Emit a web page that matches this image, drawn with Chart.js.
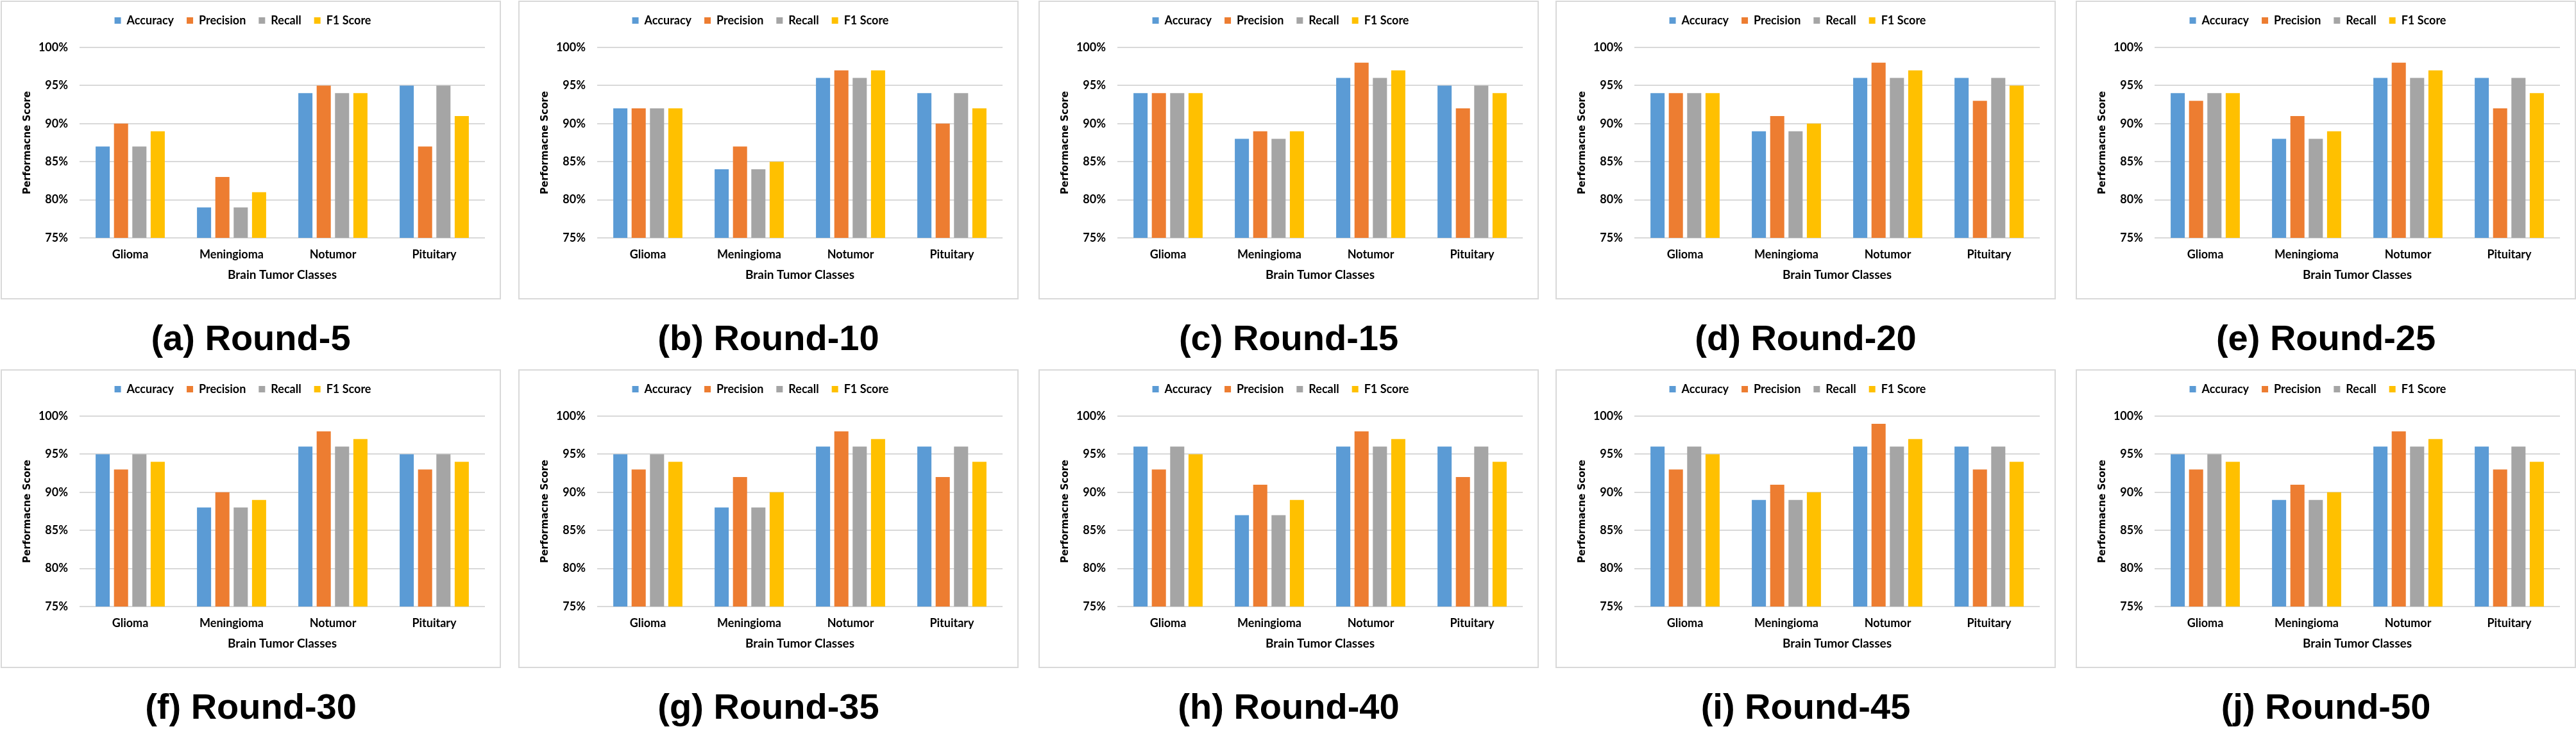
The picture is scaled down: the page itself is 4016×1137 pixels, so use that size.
<!DOCTYPE html>
<html>
<head>
<meta charset="utf-8">
<script src="https://cdn.jsdelivr.net/npm/chart.js@4.4.0/dist/chart.umd.min.js"></script>
<style>
  body { margin: 0; background: #fff; width: 4016px; height: 1137px; position: relative; overflow: hidden; }
  canvas { position: absolute; }
  .cap { position: absolute; width: 780px; text-align: center; font: bold 56px "Liberation Sans", Arial, sans-serif; line-height: 56px; color: #000; }
</style>
</head>
<body>
<script>
// classes on the x axis and the four metrics
var classes = ['Glioma', 'Meningioma', 'Notumor', 'Pituitary'];
var metrics = ['Accuracy', 'Precision', 'Recall', 'F1 Score'];
var colors = ['#5B9BD5', '#ED7D31', '#A5A5A5', '#FFC000'];
var yTicks = [75, 80, 85, 90, 95, 100];

// one array per round: [accuracy, precision, recall, f1], each over the 4 classes
var round5  = [[87, 79, 94, 95], [90, 83, 95, 87], [87, 79, 94, 95], [89, 81, 94, 91]];
var round10 = [[92, 84, 96, 94], [92, 87, 97, 90], [92, 84, 96, 94], [92, 85, 97, 92]];
var round15 = [[94, 88, 96, 95], [94, 89, 98, 92], [94, 88, 96, 95], [94, 89, 97, 94]];
var round20 = [[94, 89, 96, 96], [94, 91, 98, 93], [94, 89, 96, 96], [94, 90, 97, 95]];
var round25 = [[94, 88, 96, 96], [93, 91, 98, 92], [94, 88, 96, 96], [94, 89, 97, 94]];
var round30 = [[95, 88, 96, 95], [93, 90, 98, 93], [95, 88, 96, 95], [94, 89, 97, 94]];
var round35 = [[95, 88, 96, 96], [93, 92, 98, 92], [95, 88, 96, 96], [94, 90, 97, 94]];
var round40 = [[96, 87, 96, 96], [93, 91, 98, 92], [96, 87, 96, 96], [95, 89, 97, 94]];
var round45 = [[96, 89, 96, 96], [93, 91, 99, 93], [96, 89, 96, 96], [95, 90, 97, 94]];
var round50 = [[95, 89, 96, 96], [93, 91, 98, 93], [95, 89, 96, 96], [94, 90, 97, 94]];

var rounds = [round5, round10, round15, round20, round25, round30, round35, round40, round45, round50];
var captions = ['(a) Round-5', '(b) Round-10', '(c) Round-15', '(d) Round-20', '(e) Round-25',
                '(f) Round-30', '(g) Round-35', '(h) Round-40', '(i) Round-45', '(j) Round-50'];

var colLeft = [1, 808, 1619, 2425, 3236];
var rowTop = [1, 576];
var W = 780, H = 466;

// panel frame + fixed legend height
var framePlugin = {
  id: 'frame',
  beforeDraw: function(chart) {
    var c = chart.ctx;
    c.save();
    c.fillStyle = '#fff';
    c.fillRect(0, 0, chart.width, chart.height);
    c.strokeStyle = '#d9d9d9';
    c.lineWidth = 2;
    c.strokeRect(1, 1, chart.width - 2, chart.height - 2);
    c.restore();
  },
  afterInit: function(chart) {
    var lg = chart.legend;
    var fit = lg.fit;
    lg.fit = function() {
      fit.call(lg);
      lg.height = 71;
    };
  }
};

function makePanel(i) {
  var px = colLeft[i % 5];
  var py = rowTop[Math.floor(i / 5)];

  var cv = document.createElement('canvas');
  cv.width = W;
  cv.height = H;
  cv.style.left = px + 'px';
  cv.style.top = py + 'px';
  cv.style.width = W + 'px';
  cv.style.height = H + 'px';
  document.body.appendChild(cv);

  var cap = document.createElement('div');
  cap.className = 'cap';
  cap.textContent = captions[i];
  cap.style.left = px + 'px';
  cap.style.top = (py + 498) + 'px';
  document.body.appendChild(cap);

  var datasets = [];
  for (var m = 0; m < metrics.length; m++) {
    datasets.push({
      label: metrics[m],
      data: rounds[i][m],
      backgroundColor: colors[m],
      borderWidth: 0,
      barPercentage: 0.77,
      categoryPercentage: 0.724
    });
  }

  new Chart(cv.getContext('2d'), {
    type: 'bar',
    data: { labels: classes, datasets: datasets },
    plugins: [framePlugin],
    options: {
      responsive: false,
      animation: false,
      devicePixelRatio: 1,
      layout: { padding: { top: 2, left: 0, right: 25, bottom: 0 } },
      plugins: {
        legend: {
          position: 'top',
          labels: {
            boxWidth: 10,
            boxHeight: 10,
            padding: 20,
            color: '#000',
            font: { family: 'Lato', weight: 'bold', size: 18 }
          }
        },
        tooltip: { enabled: false }
      },
      scales: {
        x: {
          grid: { display: false, drawTicks: false },
          border: { display: false },
          ticks: { color: '#000', padding: 15, font: { family: 'Lato', weight: 'bold', size: 18 } },
          title: {
            display: true,
            text: 'Brain Tumor Classes',
            color: '#000',
            font: { family: 'Lato', weight: 'bold', size: 19 },
            padding: { top: 0, bottom: 27 }
          },
          afterFit: function(s) { s.height = 96; }
        },
        y: {
          min: 75,
          max: 100,
          afterBuildTicks: function(s) { s.ticks = yTicks.map(function(v) { return { value: v }; }); },
          grid: { color: '#d9d9d9', lineWidth: 2, drawTicks: false },
          border: { display: false },
          ticks: {
            color: '#000',
            padding: 18,
            font: { family: 'Lato', weight: 'bold', size: 18 },
            callback: function(v) { return v + '%'; }
          },
          title: {
            display: true,
            text: 'Performacne Score',
            color: '#000',
            font: { family: 'DejaVu Sans', weight: 'bold', size: 15 },
            padding: { top: 33, bottom: 0 }
          },
          afterFit: function(s) { s.width = 123; }
        }
      }
    }
  });
}

for (var k = 0; k < rounds.length; k++) {
  makePanel(k);
}
</script>
</body>
</html>
